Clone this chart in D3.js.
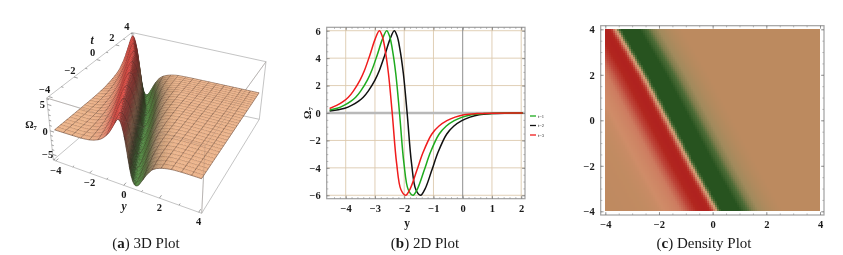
<!DOCTYPE html>
<html>
<head>
<meta charset="utf-8">
<script src="https://cdn.jsdelivr.net/npm/d3@7"></script>
<style>
  html, body { margin: 0; padding: 0; background: #fff; }
  svg { display: block; filter: blur(0.4px); }
  text { font-family: "Liberation Serif", serif; fill: #1a1a1a; }
  .tick text { font-weight: bold; }
</style>
</head>
<body>
<svg width="843" height="255"></svg>
<script>
// (b) curves
const blackY = [-4.55,-4.25,-4.03,-3.8,-3.57,-3.4,-3.23,-3.0,-2.85,-2.66,-2.49,-2.34,-2.24,-2.15,-2.03,-1.9,-1.75,-1.6,-1.44,-1.29,-1.06,-0.84,-0.55,-0.3,-0.03,0.25,0.56,1,1.5,2.05];
const blackOmega = [0.15,0.24,0.34,0.55,0.85,1.15,1.6,2.4,3.1,4.25,5.35,6,5.6,4.7,2.9,0,-3.66,-5.6,-6,-5.55,-4.2,-2.85,-1.55,-0.95,-0.56,-0.3,-0.12,-0.04,-0.01,0];
const greenY = [-4.55,-4.29,-4.06,-3.83,-3.66,-3.49,-3.26,-3.11,-2.92,-2.75,-2.6,-2.5,-2.41,-2.29,-2.16,-2.01,-1.86,-1.7,-1.55,-1.32,-1.1,-0.81,-0.56,-0.29,-0.01,0.3,0.74,1.24,2.05];
const greenOmega = [0.22,0.34,0.55,0.85,1.15,1.6,2.4,3.1,4.25,5.35,6,5.6,4.7,2.9,0,-3.66,-5.6,-6,-5.55,-4.2,-2.85,-1.55,-0.95,-0.56,-0.3,-0.12,-0.04,-0.01,0];
const redY = [-4.55,-4.31,-4.08,-3.91,-3.74,-3.51,-3.36,-3.17,-3.0,-2.85,-2.75,-2.66,-2.54,-2.41,-2.26,-2.11,-1.95,-1.8,-1.57,-1.35,-1.06,-0.81,-0.54,-0.26,0.05,0.49,0.99,2.05];
const redOmega = [0.33,0.55,0.85,1.15,1.6,2.4,3.1,4.25,5.35,6,5.6,4.7,2.9,0,-3.66,-5.6,-6,-5.55,-4.2,-2.85,-1.55,-0.95,-0.56,-0.3,-0.12,-0.04,-0.01,0];
const legendLabels = ["t=1", "t=2", "t=3"];

// wave profile (distance from the zero crossing, height) used by (a) and (c)
const profileOffset = [-6.4,-4.6,-3.4,-2.65,-2.35,-2.13,-1.9,-1.67,-1.5,-1.33,-1.1,-0.95,-0.76,-0.59,-0.44,-0.34,-0.25,-0.13,0,0.15,0.3,0.46,0.61,0.84,1.06,1.35,1.6,1.87,2.15,2.46,2.9,3.4,4.6,6.4];
const profileValue = [0.02,0.05,0.1,0.15,0.24,0.34,0.55,0.85,1.15,1.6,2.4,3.1,4.25,5.35,6,5.6,4.7,2.9,0,-3.66,-5.6,-6,-5.55,-4.2,-2.85,-1.55,-0.95,-0.56,-0.3,-0.12,-0.04,-0.01,0,0];
const crossingT = [-4,-2,0,2,4];
const crossingY = [0.15,-0.8,-1.7,-2.6,-3.6];

const axisTicks = [-4,-2,0,2,4];
const xTicks2d = [-4,-3,-2,-1,0,1,2];
const yTicks2d = [-6,-4,-2,0,2,4,6];
const zTicks3d = [-5,0,5];

const svg = d3.select("svg");
const profile = d3.scaleLinear().domain(profileOffset).range(profileValue);
const crossing = d3.scaleLinear().domain(crossingT).range(crossingY);
const height3 = (y, t) => profile(y - crossing(t));

function caption(x, letter, rest) {
    const c = svg.append("text").attr("x", x).attr("y", 248).attr("text-anchor", "middle").attr("font-size", 15);
    c.append("tspan").text("(");
    c.append("tspan").attr("font-weight", "bold").text(letter);
    c.append("tspan").text(") " + rest);
}

//---------- (a) 3D plot ----------
// perspective: ticks are not evenly spaced along the box edges
const bx = d3.scaleLinear([-4.15,-2,0,2,4.15], [0,0.245,0.475,0.715,1]);
const bt = d3.scaleLinear([-4.15,-2,0,2,4.15], [0,0.32,0.586,0.81,1]);
const bz = d3.scaleLinear([-6.2,0,6.2], [0,0.47,1]);
// screen corners of the box: [y end][t end][z end]
const cornerXY = {
    "000": [53.3,160], "001": [46.7,98], "010": [133,92], "011": [132,32.5],
    "100": [201.7,213.3], "101": [205,146], "110": [259.3,119.3], "111": [266,61.7]
};
function project(y, t, z) {
    const a = bx(y), b = bt(t), c = bz(z);
    let px = 0, py = 0;
    for (const k in cornerXY) {
        const w = (k[0] == "1" ? a : 1 - a) * (k[1] == "1" ? b : 1 - b) * (k[2] == "1" ? c : 1 - c);
        px += w * cornerXY[k][0];
        py += w * cornerXY[k][1];
    }
    return [px, py];
}
const line3 = pts => "M" + pts.map(p => project(p[0], p[1], p[2]).map(n => n.toFixed(2)).join(",")).join("L");
const yE = 4.15, tE = 4.15, zE = 6.2;

const plot3 = svg.append("g");
const backEdges = [
    [[-yE,-tE,zE],[-yE,tE,zE]], [[-yE,tE,zE],[yE,tE,zE]], [[-yE,-tE,zE],[-yE,-tE,-zE]],
    [[-yE,-tE,-zE],[yE,-tE,-zE]], [[yE,tE,zE],[yE,tE,-zE]], [[-yE,-tE,-zE],[-yE,tE,-zE]],
    [[-yE,tE,-zE],[yE,tE,-zE]], [[-yE,tE,zE],[-yE,tE,-zE]], [[yE,tE,-zE],[yE,-tE,-zE]],
    [[-yE,-tE,zE],[yE,-tE,zE]], [[yE,-tE,zE],[yE,tE,zE]], [[yE,-tE,zE],[yE,-tE,-zE]]
];
plot3.selectAll("path.edge").data(backEdges).enter().append("path").attr("class", "edge")
    .attr("d", line3).attr("fill", "none").attr("stroke", "#b5b5b5").attr("stroke-width", 0.8);

const surfColor = d3.scaleLinear()
    .domain([-6,-4.5,-3,-1.5,-0.4,-0.1,0.15,1,3.5,6])
    .range(["#4f8a3f","#55803f","#5e6a40","#9a7f5f","#dca67c","#ebb288","#ebb085","#e9a07c","#e85c52","#ea5048"]);
const surfShade = d3.scaleLinear().domain([-20,-6,-1,0,6]).range([0.5,0.62,0.9,1,0.92]).clamp(true);

const yDivs = 96, tDivs = 64, yPerMesh = 6, tPerMesh = 2;
const yAt = d3.scaleLinear([0, yDivs], [-4, 4]);
const tAt = d3.scaleLinear([0, tDivs], [-4, 4]);
const cells = [];
// painter order: far t first, then towards larger y
for (let j = tDivs - 1; j >= 0; j--) {
    for (let i = 0; i < yDivs; i++) cells.push({ i, j });
}
const surf = plot3.append("g");
cells.forEach(d => {
    const y0 = yAt(d.i), y1 = yAt(d.i + 1), t0 = tAt(d.j), t1 = tAt(d.j + 1);
    const z00 = height3(y0, t0), z10 = height3(y1, t0), z11 = height3(y1, t1), z01 = height3(y0, t1);
    const col = d3.color(surfColor((z00 + z10 + z11 + z01) / 4));
    const slope = ((z10 + z11) - (z00 + z01)) / 2 / (y1 - y0);
    const k = surfShade(slope);
    const fill = d3.rgb(col.r * k, col.g * k, col.b * k).formatHex();
    surf.append("path")
        .attr("d", line3([[y0,t0,z00],[y1,t0,z10],[y1,t1,z11],[y0,t1,z01]]) + "Z")
        .attr("fill", fill).attr("stroke", fill).attr("stroke-width", 0.3);
    let mesh = "";
    if (d.j % tPerMesh == 0) mesh += line3([[y0,t0,z00],[y1,t0,z10]]);
    if (d.j == tDivs - 1) mesh += line3([[y0,t1,z01],[y1,t1,z11]]);
    if (d.i % yPerMesh == 0) mesh += line3([[y0,t0,z00],[y0,t1,z01]]);
    if (d.i == yDivs - 1) mesh += line3([[y1,t0,z10],[y1,t1,z11]]);
    if (mesh) surf.append("path").attr("d", mesh).attr("fill", "none")
        .attr("stroke", "#3a2a24").attr("stroke-width", 0.55).attr("stroke-opacity", 0.85);
});
// box edges that run in front of the surface show through faintly
plot3.selectAll("path.front").data(backEdges.slice(9)).enter().append("path").attr("class", "front")
    .attr("d", line3).attr("fill", "none").attr("stroke", "#8a7a70").attr("stroke-width", 0.6).attr("stroke-opacity", 0.35);

function tick3(a, b, label, dx, dy) {
    plot3.append("path").attr("d", line3([a, b])).attr("stroke", "#777").attr("stroke-width", 0.7).attr("fill", "none");
    if (label === null) return;
    const p = project(a[0], a[1], a[2]);
    plot3.append("text").attr("class", "tick3").attr("x", p[0] + dx).attr("y", p[1] + dy)
        .attr("text-anchor", "middle").attr("font-size", 10.5).attr("font-weight", "bold")
        .text(d3.format("d")(label));
}
d3.range(-4, 4.01, 1).forEach(v => {
    const major = axisTicks.includes(v);
    const len = major ? 0.22 : 0.12;
    tick3([v,-tE,-zE],[v,-tE+len,-zE], major ? v : null, 0, 13);
    tick3([-yE,v,zE],[-yE+len,v,zE], major ? v : null, -4, -3.5);
});
d3.range(-6, 6.01, 1).forEach(v => {
    const major = zTicks3d.includes(v);
    tick3([-yE,-tE,v],[-yE+(major ? 0.22 : 0.12),-tE,v], major ? v : null, -5, 4);
});
svg.append("text").attr("x", 92).attr("y", 44).attr("text-anchor", "middle").attr("font-size", 11.5).attr("font-style", "italic").attr("font-weight", "bold").text("t");
svg.append("text").attr("x", 124).attr("y", 210).attr("text-anchor", "middle").attr("font-size", 11.5).attr("font-style", "italic").attr("font-weight", "bold").text("y");
const om3 = svg.append("text").attr("x", 31).attr("y", 128).attr("text-anchor", "middle").attr("font-size", 10.5).attr("font-weight", "bold");
om3.append("tspan").text("Ω");
om3.append("tspan").attr("font-size", 6.5).attr("dy", 2).text("7");
caption(146, "a", "3D Plot");

//---------- (b) 2D plot ----------
const x2 = d3.scaleLinear().domain([-4.65, 2.13]).range([326.7, 525]);
const y2 = d3.scaleLinear().domain([-6.25, 6.25]).range([198.7, 27.3]);
const plot2 = svg.append("g");
plot2.selectAll("line.gx").data(xTicks2d.filter(d => d != 0)).enter().append("line")
    .attr("x1", d => x2(d)).attr("x2", d => x2(d)).attr("y1", y2.range()[0]).attr("y2", y2.range()[1])
    .attr("stroke", "#dcc9ae").attr("stroke-width", 0.9);
plot2.selectAll("line.gy").data(yTicks2d.filter(d => d != 0)).enter().append("line")
    .attr("x1", x2.range()[0]).attr("x2", x2.range()[1]).attr("y1", d => y2(d)).attr("y2", d => y2(d))
    .attr("stroke", "#dcc9ae").attr("stroke-width", 0.9);
plot2.append("line").attr("x1", x2(0)).attr("x2", x2(0)).attr("y1", y2.range()[0]).attr("y2", y2.range()[1])
    .attr("stroke", "#8f8f8f").attr("stroke-width", 1);
plot2.append("line").attr("x1", x2.range()[0]).attr("x2", x2.range()[1]).attr("y1", y2(0)).attr("y2", y2(0))
    .attr("stroke", "#b9b9b9").attr("stroke-width", 2.5);

function frame(g, left, right, top, bottom, xs, ys, xMajor, yMajor, xMinor, yMinor) {
    g.append("rect").attr("x", left).attr("y", top).attr("width", right - left).attr("height", bottom - top)
        .attr("fill", "none").attr("stroke", "#a0a0a0").attr("stroke-width", 1.2);
    const axes = [
        [d3.axisBottom(xs), 0, bottom, true, xMajor, xMinor],
        [d3.axisTop(xs), 0, top, false, xMajor, xMinor],
        [d3.axisLeft(ys), left, 0, true, yMajor, yMinor],
        [d3.axisRight(ys), right, 0, false, yMajor, yMinor]
    ];
    axes.forEach(a => {
        const minor = g.append("g").attr("transform", `translate(${a[1]},${a[2]})`)
            .call(a[0].tickValues(a[5]).tickSize(-1.6).tickFormat(""));
        minor.select(".domain").remove();
        minor.selectAll("line").attr("stroke", "#8a8a8a").attr("stroke-width", 0.6);
        const major = g.append("g").attr("transform", `translate(${a[1]},${a[2]})`)
            .call(a[0].tickValues(a[4]).tickSize(-3).tickPadding(a[3] ? 6 : 0).tickFormat(a[3] ? d3.format("d") : ""));
        major.select(".domain").remove();
        major.selectAll("line").attr("stroke", "#777").attr("stroke-width", 0.7);
        major.selectAll("text").attr("font-size", 10.5).attr("font-family", '"Liberation Serif", serif');
    });
}
frame(plot2, 326.7, 525, 27.3, 198.7, x2, y2, xTicks2d, yTicks2d,
    d3.range(-4.4, 2.01, 0.2), d3.range(-6, 6.01, 0.5));

const curve2 = d3.line().x(d => x2(d[0])).y(d => y2(d[1])).curve(d3.curveCatmullRom.alpha(0.5));
const series2 = [
    { xs: blackY, vs: blackOmega, color: "#111111" },
    { xs: greenY, vs: greenOmega, color: "#1eaa1e" },
    { xs: redY, vs: redOmega, color: "#f01c1c" }
];
plot2.selectAll("path.curve").data(series2).enter().append("path").attr("class", "curve")
    .attr("d", d => curve2(d3.zip(d.xs, d.vs)))
    .attr("fill", "none").attr("stroke", d => d.color).attr("stroke-width", 1.5);

svg.append("text").attr("x", 407).attr("y", 227).attr("text-anchor", "middle").attr("font-size", 11.5).attr("font-weight", "bold").text("y");
const om2 = svg.append("text").attr("transform", "translate(311,113) rotate(-90)").attr("text-anchor", "middle").attr("font-size", 10.5).attr("font-weight", "bold");
om2.append("tspan").text("Ω");
om2.append("tspan").attr("font-size", 7).attr("dy", 2).text("7");

const legendColors = ["#1eaa1e", "#111111", "#f01c1c"];
const legendY = d3.scalePoint().domain(legendLabels).range([116, 135]);
legendLabels.forEach((d, i) => {
    svg.append("line").attr("x1", 530).attr("x2", 536).attr("y1", legendY(d)).attr("y2", legendY(d))
        .attr("stroke", legendColors[i]).attr("stroke-width", 1.3);
    svg.append("text").attr("x", 538).attr("y", legendY(d) + 1.5).attr("font-size", 4.5).attr("fill", "#555").text(d);
});
caption(425, "b", "2D Plot");

//---------- (c) density plot ----------
const xD = d3.scaleLinear().domain([-4, 4]).range([605.3, 820]);
const yD = d3.scaleLinear().domain([-4, 4]).range([211.3, 29.3]);
const densColor = d3.scaleLinear()
    .domain([-6,-4,-2.5,-1,-0.12,0.01,0.5,1.6,3,4.5,6])
    .range(["#27531f","#27531f","#4a6a35","#a08a5c","#bc8a5f","#bc8a5f","#cf8c68","#cd7a5f","#bd4438","#b2271f","#b0221f"]);
// the ridge flank is resolved on a coarse mesh, which leaves pale beads along the zero crossing
const nodes = 32, cell = 2;
const nodeAt = d3.scaleLinear([0, nodes], [-4, 4]);
function coarseValue(y, t) {
    const u = Math.min(nodes - 1e-6, Math.max(0, nodeAt.invert(y)));
    const v = Math.min(nodes - 1e-6, Math.max(0, nodeAt.invert(t)));
    const i = Math.floor(u), j = Math.floor(v), a = u - i, b = v - j;
    const h = (p, q) => height3(nodeAt(p), nodeAt(q));
    return d3.interpolateNumber(
        d3.interpolateNumber(h(i, j), h(i + 1, j))(a),
        d3.interpolateNumber(h(i, j + 1), h(i + 1, j + 1))(a))(b);
}
const nearWeight = d3.scaleLinear().domain([0, 0.15, 0.3]).range([1, 1, 0]).clamp(true);
const paleWeight = d3.scaleLinear().domain([0, 1.2]).range([0.5, 0]).clamp(true);
function densFill(y, t) {
    const off = Math.abs(y - crossing(t));
    const w = nearWeight(off);
    const v = w * coarseValue(y, t) + (1 - w) * height3(y, t);
    return d3.interpolateRgb(densColor(v), "#e0b48e")(w * paleWeight(Math.abs(v)));
}
const pixels = [];
for (let px = Math.floor(xD.range()[0]); px < xD.range()[1]; px += cell) {
    for (let py = Math.floor(yD.range()[1]); py < yD.range()[0]; py += cell) pixels.push([px, py]);
}
const plotD = svg.append("g");
plotD.append("g").attr("shape-rendering", "crispEdges").selectAll("rect").data(pixels).enter().append("rect")
    .attr("x", d => d[0]).attr("y", d => d[1])
    .attr("width", d => Math.min(cell, 820 - d[0]))
    .attr("height", d => Math.min(cell, 211 - d[1]))
    .attr("fill", d => densFill(xD.invert(d[0] + cell / 2), yD.invert(d[1] + cell / 2)));
frame(plotD, 600.7, 824, 25.7, 215, xD, yD, axisTicks, axisTicks, d3.range(-4, 4.01, 0.5), d3.range(-4, 4.01, 0.5));
caption(704, "c", "Density Plot");
</script>
</body>
</html>
